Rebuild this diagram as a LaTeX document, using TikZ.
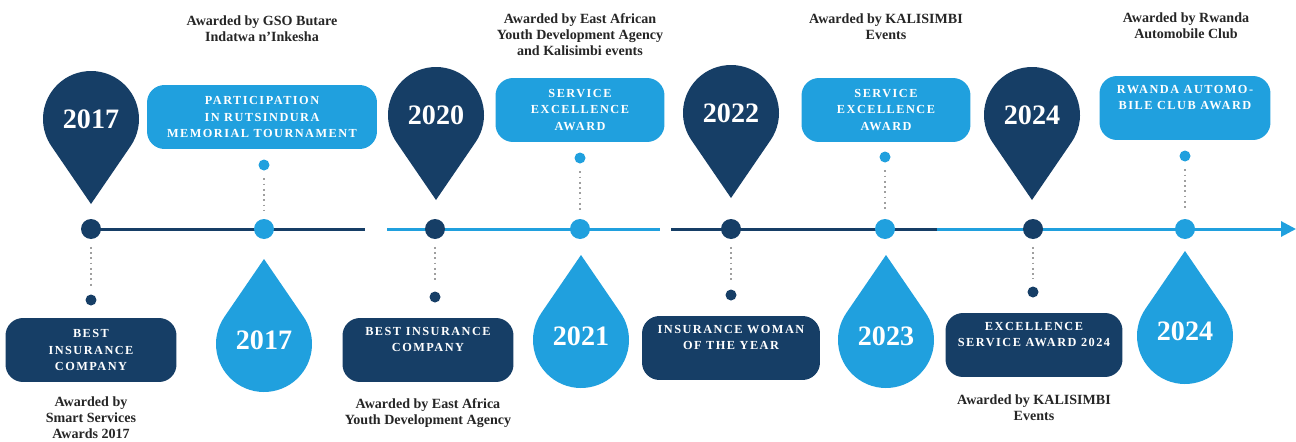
\documentclass[tikz,border=0pt]{standalone}
\usepackage{fontspec}
\setmainfont{Liberation Serif}
\newfontfamily\boxfont[LetterSpace=12]{Liberation Serif}
\usetikzlibrary{arrows.meta}

% pin pointing down / drop pointing up, centre of the round part given
\newcommand{\pinShape}[3]{%
    \fill[#3] (#1,#2) ++(-34.4:\PinR) arc[start angle=-34.4, end angle=214.4, radius=\PinR] -- (#1,#2-\PinTip) -- cycle;}
\newcommand{\dropShape}[3]{%
    \fill[#3] (#1,#2) ++(145.6:\PinR) arc[start angle=145.6, end angle=394.4, radius=\PinR] -- (#1,#2+\PinTip) -- cycle;}

\begin{document}
\begin{tikzpicture}[x=0.02cm,y=0.02cm]
    % --- MANUAL CONFIGURATION ---
    \def\PinR{48}
    \def\PinTip{85}
    \def\LineY{212}

    \definecolor{navyMark}{RGB}{22,62,102}
    \definecolor{skyMark}{RGB}{32,160,222}

    % --- STYLES ---
    \tikzset{
        lineDot/.style={circle, inner sep=0pt, minimum size=0.4cm},
        smallDot/.style={circle, inner sep=0pt, minimum size=0.22cm},
        awardBox/.style={rectangle, rounded corners=0.35cm, text=white, align=center, inner sep=2pt,
            minimum height=1.28cm, minimum width=3.42cm, font=\boxfont\bfseries\fontsize{7}{9.4}\selectfont},
        skyBox/.style={awardBox, fill=skyMark},
        navyBox/.style={awardBox, fill=navyMark},
        shortBox/.style={text depth=12pt},
        yearText/.style={text=white, inner sep=0pt, font=\bfseries\fontsize{16}{18}\selectfont},
        awardNote/.style={anchor=north, align=center, inner sep=0pt, text=black!85,
            font=\bfseries\fontsize{8}{9.2}\selectfont},
        timeLine/.style={line width=0.06cm},
        dotLink/.style={gray!75, line width=1pt, dash pattern=on 1pt off 2pt, shorten <=0.15cm, shorten >=0.15cm}
    }

    \useasboundingbox[fill=white] (0,0) rectangle (1296,441);

    % --- TIMELINE ---
    \coordinate (t0) at (91,\LineY);
    \coordinate (g1) at (365,\LineY);
    \coordinate (g2) at (387,\LineY);
    \coordinate (g3) at (660,\LineY);
    \coordinate (g4) at (671,\LineY);
    \coordinate (g5) at (937,\LineY);
    \coordinate (tEnd) at (1296,\LineY);

    \draw[timeLine, navyMark] (t0) -- (g1);
    \draw[timeLine, skyMark] (g2) -- (g3);
    \draw[timeLine, navyMark] (g4) -- (g5);
    \draw[timeLine, skyMark, -{Triangle[length=0.3cm, width=0.3cm]}] (g5) -- (tEnd);

    \node[lineDot, fill=navyMark] (d1) at (91,\LineY) {};
    \node[lineDot, fill=skyMark] (d2) at (264,\LineY) {};
    \node[lineDot, fill=navyMark] (d3) at (435,\LineY) {};
    \node[lineDot, fill=skyMark] (d4) at (580,\LineY) {};
    \node[lineDot, fill=navyMark] (d5) at (731,\LineY) {};
    \node[lineDot, fill=skyMark] (d6) at (885,\LineY) {};
    \node[lineDot, fill=navyMark] (d7) at (1033,\LineY) {};
    \node[lineDot, fill=skyMark] (d8) at (1185,\LineY) {};

    % --- PINS (top) ---
    \pinShape{91}{322}{navyMark}
    \node[yearText] (p1) at (91,322) {2017};
    \pinShape{436}{326}{navyMark}
    \node[yearText] (p2) at (436,326) {2020};
    \pinShape{731}{328}{navyMark}
    \node[yearText] (p3) at (731,328) {2022};
    \pinShape{1032}{326}{navyMark}
    \node[yearText] (p4) at (1032,326) {2024};

    % --- DROPS (bottom) ---
    \dropShape{264}{97}{skyMark}
    \node[yearText] (q1) at (264,101) {2017};
    \dropShape{581}{101}{skyMark}
    \node[yearText] (q2) at (581,105) {2021};
    \dropShape{886}{101}{skyMark}
    \node[yearText] (q3) at (886,105) {2023};
    \dropShape{1185}{105}{skyMark}
    \node[yearText] (q4) at (1185,110) {2024};

    % --- TOP AWARDS ---
    \node[skyBox, minimum width=4.6cm] (tb1) at (262,324) {PARTICIPATION\\IN RUTSINDURA\\MEMORIAL TOURNAMENT};
    \node[skyBox, minimum width=3.38cm] (tb2) at (580,331) {SERVICE\\EXCELLENCE\\AWARD};
    \node[skyBox, minimum width=3.38cm] (tb3) at (886,331) {SERVICE\\EXCELLENCE\\AWARD};
    \node[skyBox, shortBox] (tb4) at (1185,333) {RWANDA AUTOMO-\\BILE CLUB AWARD};

    \node[smallDot, fill=skyMark] (s1) at (264,276) {};
    \node[smallDot, fill=skyMark] (s2) at (580,283) {};
    \node[smallDot, fill=skyMark] (s3) at (885,284) {};
    \node[smallDot, fill=skyMark] (s4) at (1185,285) {};

    \draw[dotLink] (s1) -- (d2);
    \draw[dotLink] (s2) -- (d4);
    \draw[dotLink] (s3) -- (d6);
    \draw[dotLink] (s4) -- (d8);

    \node[awardNote] (n1) at (262,426) {Awarded by GSO Butare\\Indatwa n’Inkesha};
    \node[awardNote] (n2) at (580,428) {Awarded by East African\\Youth Development Agency\\and Kalisimbi events};
    \node[awardNote] (n3) at (886,428) {Awarded by KALISIMBI\\Events};
    \node[awardNote] (n4) at (1186,429) {Awarded by Rwanda\\Automobile Club};

    % --- BOTTOM AWARDS ---
    \node[navyBox] (bb1) at (91,91) {BEST\\INSURANCE\\COMPANY};
    \node[navyBox, shortBox] (bb2) at (428,91) {BEST INSURANCE\\COMPANY};
    \node[navyBox, shortBox, minimum width=3.56cm] (bb3) at (731,93) {INSURANCE WOMAN\\OF THE YEAR};
    \node[navyBox, shortBox, minimum width=3.54cm] (bb4) at (1034,96) {EXCELLENCE\\SERVICE AWARD 2024};

    \node[smallDot, fill=navyMark] (r1) at (91,141) {};
    \node[smallDot, fill=navyMark] (r2) at (435,144) {};
    \node[smallDot, fill=navyMark] (r3) at (731,146) {};
    \node[smallDot, fill=navyMark] (r4) at (1033,149) {};

    \draw[dotLink] (d1) -- (r1);
    \draw[dotLink] (d3) -- (r2);
    \draw[dotLink] (d5) -- (r3);
    \draw[dotLink] (d7) -- (r4);

    \node[awardNote] (m1) at (91,45) {Awarded by\\Smart Services\\Awards 2017};
    \node[awardNote] (m2) at (428,43) {Awarded by East Africa\\Youth Development Agency};
    \node[awardNote] (m4) at (1034,47) {Awarded by KALISIMBI\\Events};

\end{tikzpicture}
\end{document}
